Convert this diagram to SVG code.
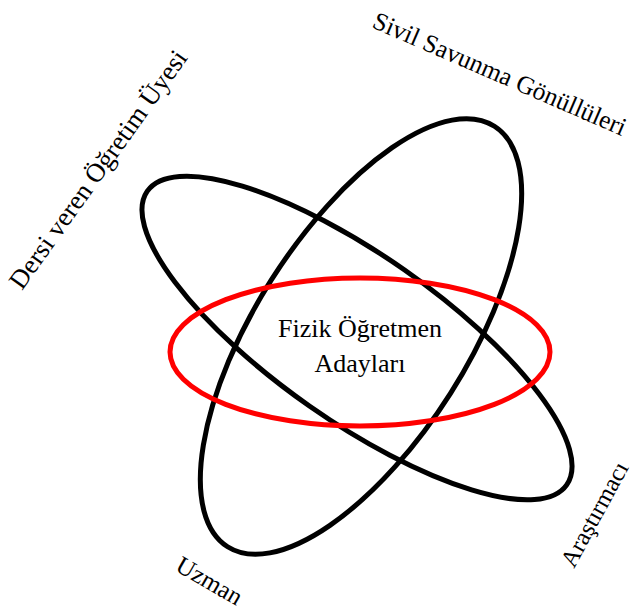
<svg xmlns="http://www.w3.org/2000/svg" width="634" height="610" viewBox="0 0 634 610">
<style>
.bk{fill:none;stroke:#000;stroke-width:5}
.rd{fill:none;stroke:#ff0000;stroke-width:5}
text{font-family:"Liberation Serif","Times New Roman",serif;fill:#000}
.lbl{font-size:25px}
.ctr{font-size:26px;text-anchor:middle}
</style>
<rect width="634" height="610" fill="#fff"/>
<g id="ellipse-a"><ellipse class="bk" cx="357" cy="338" rx="256" ry="83" transform="rotate(35 357 338)"/></g>
<g id="ellipse-b"><ellipse class="bk" cx="361" cy="336.5" rx="249" ry="106" transform="rotate(-57.6 361 336.5)"/></g>
<g id="fizik"><ellipse class="rd" cx="360" cy="352" rx="190" ry="74"/>
<text class="ctr" x="360" y="337">Fizik Öğretmen</text>
<text class="ctr" x="360" y="372">Adayları</text></g>
<g id="label-dersi"><text class="lbl" style="font-size:26.5px" transform="translate(22 291) rotate(-54.5)">Dersi veren Öğretim Üyesi</text></g>
<g id="label-sivil"><text class="lbl" style="font-size:25.5px" transform="translate(371 27) rotate(23.5)">Sivil Savunma Gönüllüleri</text></g>
<g id="label-arastirmaci"><text class="lbl" style="font-size:24.5px" transform="translate(574 569) rotate(-61.5)">Araştırmacı</text></g>
<g id="label-uzman"><text class="lbl" transform="translate(174 570) rotate(30)">Uzman</text></g>
<g id="connectors"></g>
</svg>
